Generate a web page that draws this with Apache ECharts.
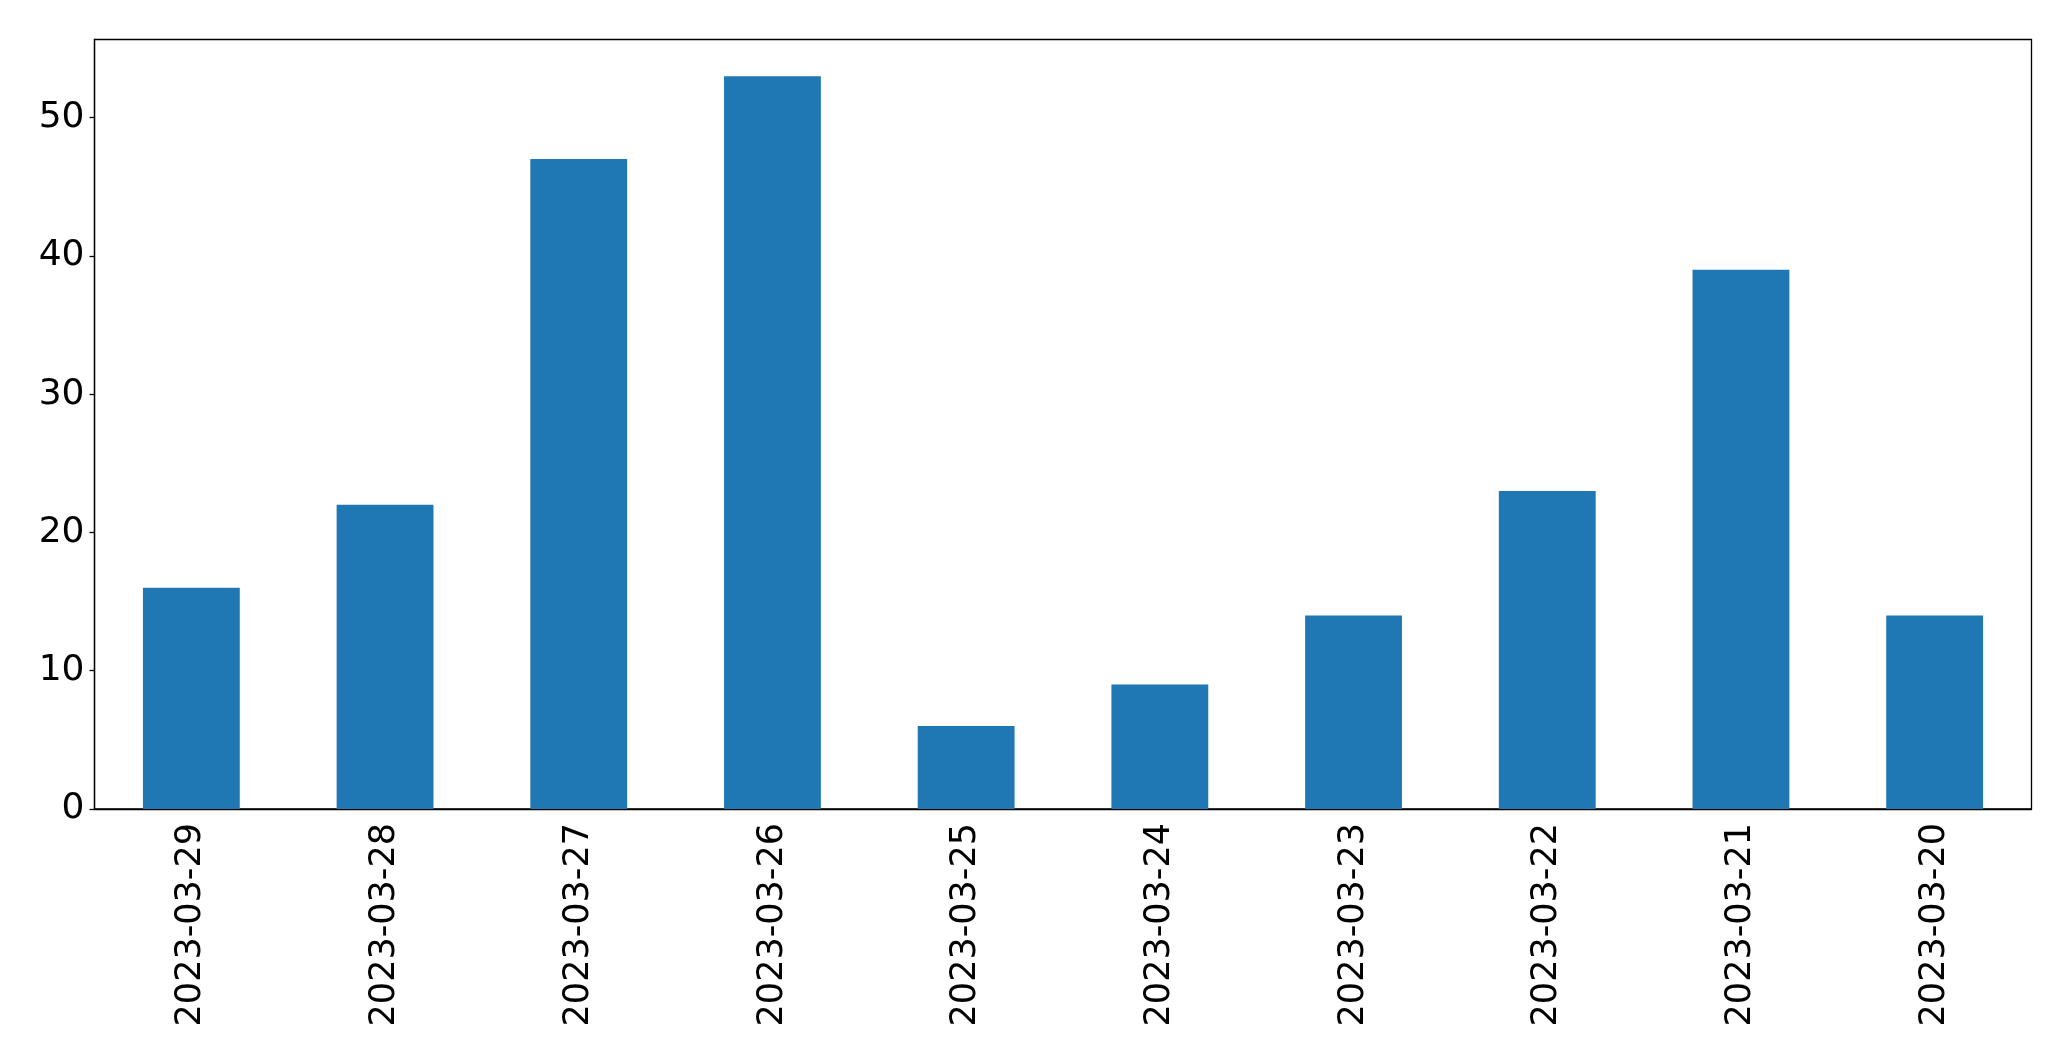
<!DOCTYPE html>
<html>
<head>
<meta charset="utf-8">
<script src="https://cdn.jsdelivr.net/npm/echarts@6/dist/echarts.min.js"></script>
<style>
  html, body { margin: 0; padding: 0; background: #fff; }
  #chart { width: 2071px; height: 1061px; }
</style>
</head>
<body>
<div id="chart"></div>
<script>
const dates = ['2023-03-29', '2023-03-28', '2023-03-27', '2023-03-26', '2023-03-25',
  '2023-03-24', '2023-03-23', '2023-03-22', '2023-03-21', '2023-03-20'];
const counts = [16, 22, 47, 53, 6, 9, 14, 23, 39, 14];
const yTicks = [0, 10, 20, 30, 40, 50];

const chart = echarts.init(document.getElementById('chart'));

const option = {
  backgroundColor: '#ffffff',
  animation: false,
  textStyle: { fontFamily: 'DejaVu Sans' },
  grid: {
    left: 94.5,
    right: 39.5,
    top: 39.5,
    bottom: 252,
    show: true,
    borderColor: '#000',
    borderWidth: 1.3,
    backgroundColor: 'transparent'
  },
  xAxis: {
    type: 'category',
    data: dates,
    axisLine: { lineStyle: { color: '#000', width: 1.3 } },
    axisTick: { alignWithLabel: true, length: 5, lineStyle: { color: '#000', width: 1.3 } },
    axisLabel: {
      rotate: 90,
      color: '#000',
      fontSize: 35,
      margin: 14,
      interval: 0
    },
    splitLine: { show: false }
  },
  yAxis: {
    type: 'value',
    min: 0,
    max: 55.65,
    interval: 10,
    axisLine: { show: true, lineStyle: { color: '#000', width: 1.3 } },
    axisTick: {
      show: true,
      length: 5,
      customValues: yTicks,
      lineStyle: { color: '#000', width: 1.3 }
    },
    axisLabel: {
      color: '#000',
      fontSize: 36,
      margin: 10,
      customValues: yTicks
    },
    splitLine: { show: false }
  },
  series: [
    {
      type: 'bar',
      data: counts,
      barWidth: '50%',
      itemStyle: { color: '#1f77b4' }
    }
  ]
};

chart.setOption(option);
</script>
</body>
</html>
